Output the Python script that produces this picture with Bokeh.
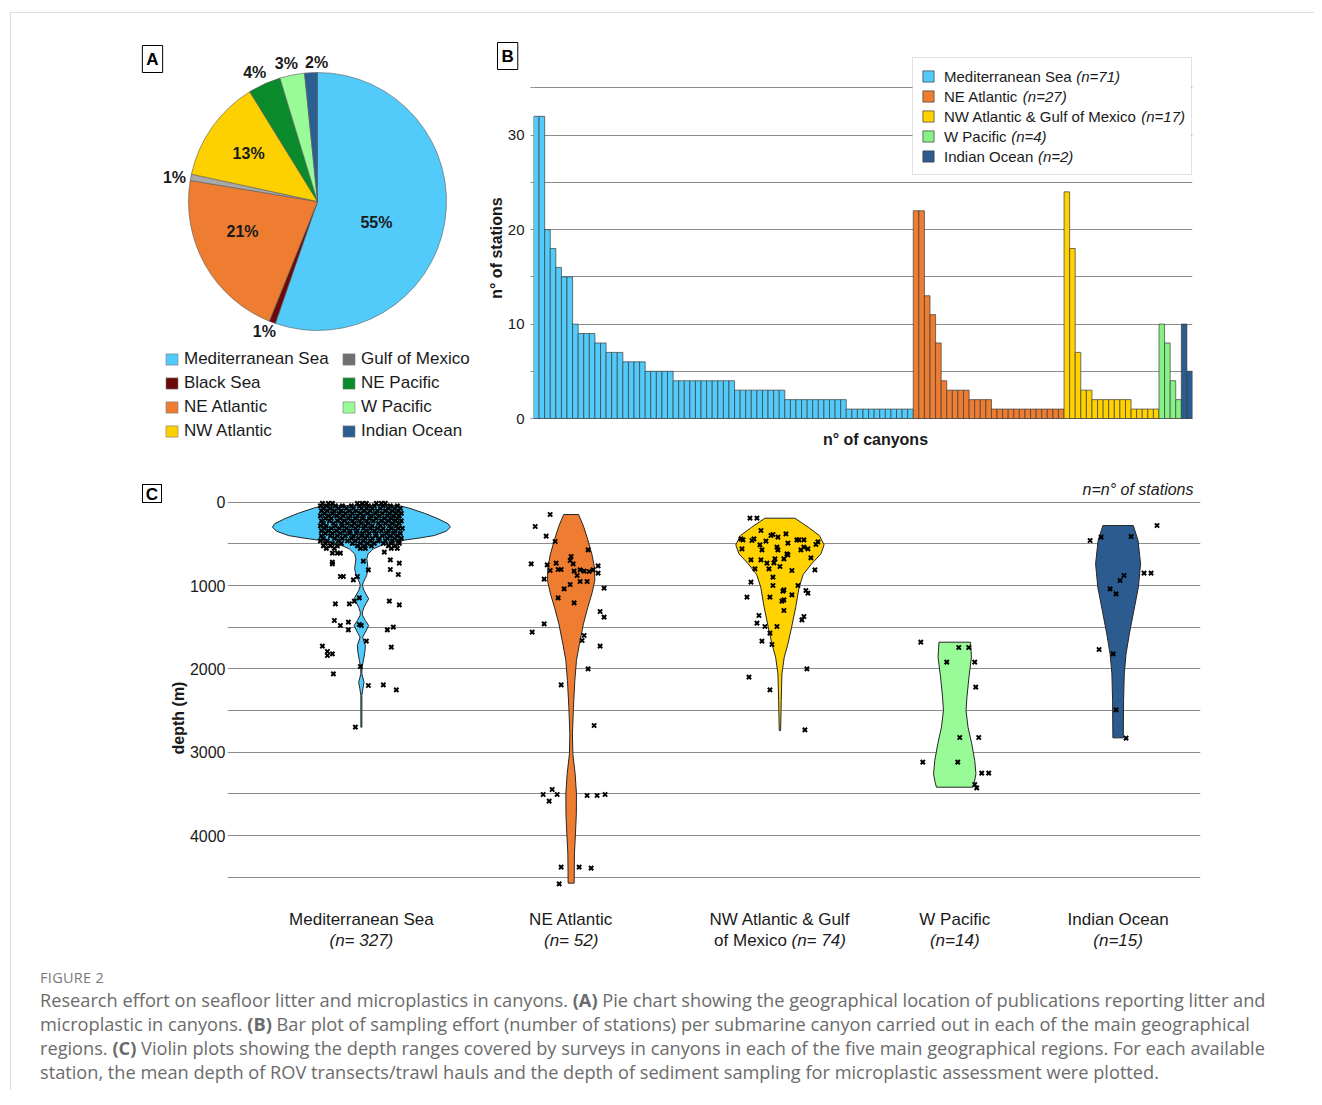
import math
from bokeh.plotting import figure
from bokeh.models import (Range1d, FixedTicker, Legend, LegendItem, Label, Div, Title,
                          BoxAnnotation)
from bokeh.layouts import column, row
from bokeh.embed import file_html
from bokeh.resources import INLINE
from bokeh.core.properties import value

# ============================ DATA ============================
# (A) pie: share of publications per region (%)
pie_regions = ["Mediterranean Sea", "Black Sea", "NE Atlantic", "Gulf of Mexico",
               "NW Atlantic", "NE Pacific", "W Pacific", "Indian Ocean"]
pie_share = [55.3, 0.8, 21.5, 0.8, 12.8, 4.1, 3.1, 1.6]
pie_text = ["55%", "1%", "21%", "1%", "13%", "4%", "3%", "2%"]
pie_legend_col1 = ["Mediterranean Sea", "Black Sea", "NE Atlantic", "NW Atlantic"]
pie_legend_col2 = ["Gulf of Mexico", "NE Pacific", "W Pacific", "Indian Ocean"]

# (B) stations per canyon
bar_regions = ["Mediterranean Sea", "NE Atlantic", "NW Atlantic & Gulf of Mexico",
               "W Pacific", "Indian Ocean"]
bar_n = ["(n=71)", "(n=27)", "(n=17)", "(n=4)", "(n=2)"]
med_stations = [32, 32, 20, 18, 16, 15, 15, 10, 9, 9, 9, 8, 8, 7, 7, 7, 6, 6, 6, 6,
                5, 5, 5, 5, 5,
                4, 4, 4, 4, 4, 4, 4, 4, 4, 4, 4,
                3, 3, 3, 3, 3, 3, 3, 3, 3,
                2, 2, 2, 2, 2, 2, 2, 2, 2, 2, 2,
                1, 1, 1, 1, 1, 1, 1, 1, 1, 1, 1, 1]
ne_stations = [22, 22, 13, 11, 8, 4, 3, 3, 3, 3, 2, 2, 2, 2,
               1, 1, 1, 1, 1, 1, 1, 1, 1, 1, 1, 1, 1]
nw_stations = [24, 18, 7, 3, 3, 2, 2, 2, 2, 2, 2, 2, 1, 1, 1, 1, 1]
wp_stations = [10, 8, 4, 2]
io_stations = [10, 5]

# (C) depth distributions
vio_cats = ["Mediterranean Sea", "NE Atlantic", "NW Atlantic & Gulf", "W Pacific", "Indian Ocean"]
vio_n = ["(n= 327)", "(n= 52)", "(n= 74)", "(n=14)", "(n=15)"]

# violin outlines: depth (m) and half width (px)
med_v_depth = [40, 68, 132, 200, 260, 300, 348, 400, 432, 460, 480, 508, 560, 620, 680, 800, 880,
               960, 1000, 1060, 1160, 1260, 1320, 1360, 1420, 1480, 1560, 1620, 1720, 1800, 1900,
               1980, 2060, 2160, 2240, 2320, 2500, 2700]
med_v_half = [37, 47, 63, 77, 87, 89, 85, 73, 57, 40, 30, 22, 12, 6.7, 5.5, 6.7, 5.3,
              2, 1, 2.7, 7.3, 2.7, 1, 1.3, 4, 7.3, 4, 1.3, 4, 3.5, 2,
              0.7, 0.5, 2.7, 1.5, 0.5, 0.5, 0.5]
ne_v_depth = [148, 300, 452, 620, 780, 940, 1100, 1260, 1460, 1700, 1900, 2140, 2460, 2780,
              3020, 3260, 3500, 3740, 3980, 4220, 4572]
ne_v_half = [7.5, 12.7, 16.7, 20.7, 23.3, 23.7, 20.7, 16.7, 12.3, 8.3, 5.3, 3.7, 2.3, 1.3,
             1.7, 4, 5.3, 5.2, 4.3, 3.3, 3]
nw_v_depth = [192, 300, 400, 512, 620, 740, 868, 1020, 1260, 1500, 1700, 1860, 2060, 2380, 2740]
nw_v_half = [15, 28.3, 39.5, 44.2, 41, 31.7, 23.3, 19.2, 15.8, 11.7, 8, 4.3, 2, 1.3, 0.7]
wp_v_depth = [1680, 1860, 2100, 2340, 2500, 2700, 2900, 3100, 3260, 3360, 3420]
wp_v_half = [15.8, 16.7, 14.2, 12.2, 11.3, 13.3, 17, 20, 21.2, 19.7, 18.3]
io_v_depth = [280, 460, 740, 1020, 1300, 1580, 1820, 2060, 2380, 2828]
io_v_half = [15.2, 20, 22.5, 20.3, 15.8, 11.3, 8, 6.2, 5.5, 5.2]

# stations: depth (m) and horizontal scatter offset (px)
med_cluster = [
    (15, [-39, -33, -29, -4, 1, 5, 15, 20, 24]),
    (45, [-41, -35, -26, -19, -10, -2, 7, 13, 22, 29, 36]),
    (75, [-38, -31, -23, -15, -8, 0, 5, 11, 19, 27, 33, 39]),
    (105, [-40, -34, -27, -20, -12, -5, 3, 9, 16, 24, 31, 37]),
    (135, [-37, -29, -22, -16, -9, -1, 6, 14, 21, 28, 35, 40]),
    (165, [-41, -33, -25, -18, -11, -4, 2, 10, 18, 26, 32, 38]),
    (195, [-36, -30, -21, -13, -6, 1, 8, 15, 23, 30, 36]),
    (225, [-40, -32, -24, -17, -9, -2, 5, 12, 20, 27, 34, 40]),
    (255, [-38, -28, -20, -14, -7, 0, 7, 17, 24, 31, 38]),
    (285, [-41, -35, -26, -19, -10, -3, 4, 11, 19, 28, 35]),
    (315, [-37, -30, -22, -15, -6, 2, 9, 16, 22, 30, 37, 41]),
    (345, [-40, -33, -25, -17, -11, -4, 5, 13, 20, 27, 34]),
    (375, [-36, -29, -21, -12, -5, 1, 8, 15, 25, 32, 39]),
    (405, [-40, -31, -24, -16, -8, 0, 6, 14, 21, 29, 36]),
    (435, [-38, -27, -19, -10, -3, 4, 11, 18, 26, 33, 40]),
    (465, [-41, -34, -23, -14, -6, 2, 9, 17, 24, 31, 37]),
    (495, [-36, -29, -20, -9, -1, 6, 13, 22, 30, 38]),
    (525, [-38, -31, -24, -4, 3, 10, 27, 34]),
    (555, [-35, -27, -1, 4, 30, 36]),
]
med_out_depth = [612, 612, 612, 720, 740, 600, 692, 732, 708, 812, 808, 868, 892, 892, 932, 892,
                 1148, 1188, 1220, 1220, 1188, 1232, 1420, 1480, 1440, 1532, 1468, 1480, 1532, 1500,
                 1668, 1728, 1792, 1840, 1820, 1740, 2060, 1972, 2200, 2192, 2252, 2700]
med_out_off = [-29, -24, -21, -29, -29, 23, 29, 38, 2, 7, 29, 37, -21, -18, -8, -4,
               -2, -7, -12, -26, 28, 38, -27, -21, -13, -13, -2, 0, 26, 32,
               5, -39, -34, -34, -29, 30, -28, -1, 7, 22, 35, -6]
ne_pt_depth = [148, 292, 408, 472, 572, 740, 752, 820, 732, 808, 808, 924, 700, 652, 740, 828,
               880, 812, 828, 952, 952, 832, 812, 764, 852, 1032, 988, 1040, 1148, 1208, 1312,
               1380, 1460, 1560, 1600, 1660, 1728, 2000, 2192, 2680, 3508, 3588, 3448, 3508,
               3520, 3520, 3508, 4380, 4380, 4392, 4580]
ne_pt_off = [-21, -36, -25, -16, 17, -40, -24, -21, -15, -13, -10, -27, -1, 0, 2, 3,
             6, 9, 13, 9, 16, 18, 22, 27, 27, 33, -1, -7, -13, 3, 29,
             33, -27, -39, 13, 11, 29, 17, -10, 23, -28, -22, -19, -14,
             16, 26, 34, -10, 8, 20, -12]
nw_pt_depth = [192, 192, 340, 440, 452, 460, 440, 560, 512, 572, 468, 400, 388, 420, 540, 572,
               380, 492, 620, 452, 452, 452, 572, 540, 560, 508, 476, 668, 812, 692, 692, 800,
               732, 728, 680, 800, 900, 772, 680, 632, 820, 960, 1140, 1140, 1000, 1068, 1052,
               1188, 1172, 1300, 1112, 1000, 1060, 1092, 1360, 1452, 1492, 1492, 1572, 1708,
               1668, 1412, 1372, 2100, 2000, 2252, 2732]
nw_pt_off = [-30, -23, -19, -39, -37, -28, -26, -38, -20, -18, -14, -9, -7, -2, -3, -2,
             6, 8, 7, 17, 19, 24, 21, 24, 28, 36, 38, 31, 35, -29, -19, -25,
             -13, -6, -5, -11, -7, 0, 4, 8, 12, -29, -33, -10, -7, 3, 4,
             2, 4, 4, 12, 18, 26, 28, -21, -23, -15, -3, -10, -8,
             -18, 22, 24, -31, 27, -10, 25]
wp_pt_depth = [1680, 1744, 1744, 1920, 1920, 2220, 2824, 2824, 3120, 3120, 3252, 3252, 3388, 3428]
wp_pt_off = [-34, 4, 14, -8, 20, 21, 5, 24, -32, 3, 27, 34, 20, 22]
io_pt_depth = [460, 420, 412, 280, 852, 852, 880, 940, 1040, 1100, 1768, 1820, 2492, 2832]
io_pt_off = [-28, -17, 13, 39, 26, 33, 6, 2, -8, -2, -19, -5, -2, 8]

# ============================ STYLE ============================
FONT = "Liberation Sans"
TXT = "#1a1a1a"
GRID = "#8c8c8c"
pie_colors = {"Mediterranean Sea": "#52CBFA", "Black Sea": "#6B0A0A", "NE Atlantic": "#EE7D31",
              "Gulf of Mexico": "#A8A8A8", "NW Atlantic": "#FDD100", "NE Pacific": "#0B8A2B",
              "W Pacific": "#98FB98", "Indian Ocean": "#2B5F91"}
pie_legend_colors = dict(pie_colors, **{"Gulf of Mexico": "#707070"})
bar_colors = ["#52CBFA", "#EE7D31", "#FFD200", "#86F286", "#2B5B8F"]
vio_colors = ["#50CBFB", "#EE7D31", "#FFD200", "#98FB98", "#2B5B8F"]
vio_pos = [134, 344, 553, 728, 891.5]          # category centres on the violin x axis
pie_lab_r = [0.485, 1.09, 0.626, 1.124, 0.65, 1.11, 1.095, 1.08]
pie_lab_nudge = [10.0, 1.7, 7.5, -1.3, -0.5, -1.7, -1.4, 2.5]

ARIAL = {' ': 278, '&': 667, '(': 333, ')': 333, '=': 584, 'A': 667, 'E': 667, 'G': 778,
         'I': 278, 'M': 833, 'N': 722, 'O': 778, 'P': 667, 'S': 667, 'W': 944, 'a': 556,
         'c': 500, 'd': 556, 'e': 556, 'f': 278, 'i': 222, 'l': 222, 'n': 556, 'o': 556,
         'r': 333, 't': 278, 'u': 556, 'x': 500}


def tw(s, size):
    return sum(ARIAL.get(ch, 556) for ch in s) * size / 1000.0


# page geometry (reference pixel coordinates); content starts at (11, 13)
TOP_FT, TOP_FB = 40, 455          # frame top / bottom shared by the pie and bar panels

# ============================ (A) PIE ============================
PCX, PCY, PR = 317.0, 201.0, 129.0
pie = figure(width=469, height=442, output_backend="svg", toolbar_location=None,
             x_range=Range1d((11 - PCX) / PR, (480 - PCX) / PR),
             y_range=Range1d((PCY - TOP_FB) / PR, (PCY - TOP_FT) / PR),
             x_axis_location=None, y_axis_location=None,
             min_border_left=0, min_border_right=0, min_border_top=TOP_FT - 13,
             min_border_bottom=0)
pie.grid.visible = False
pie.outline_line_color = None

starts, ends, mids = [], [], []
acc = 0.0
for s in pie_share:
    starts.append(math.pi / 2 - 2 * math.pi * acc / 100)
    mids.append(360.0 * (acc + s / 2) / 100)
    acc += s
    ends.append(math.pi / 2 - 2 * math.pi * acc / 100)
pie.wedge(x=0, y=0, radius=1, start_angle=starts, end_angle=ends, direction="clock",
          fill_color=[pie_colors[r] for r in pie_regions], line_color="#5a5a5a", line_width=0.6)
# zero-size twin of the pie, only used to give the legend its swatch colours
leg_r = pie.wedge(x=0, y=0, radius=0, start_angle=starts, end_angle=ends, direction="clock",
                  fill_color=[pie_legend_colors[r] for r in pie_regions], line_color="#7a7a7a",
                  line_width=0.6)

lx, ly = [], []
for m, r, n in zip(mids, pie_lab_r, pie_lab_nudge):
    a = math.radians(m + n)
    lx.append(r * math.sin(a))
    ly.append(r * math.cos(a))
pie.text(x=lx, y=ly, text=pie_text, text_font=value(FONT), text_font_style="bold",
         text_font_size="16px", text_align="center", text_baseline="middle", text_color=TXT)


def pie_legend(names, loc):
    items = [LegendItem(label=nm, renderers=[leg_r], index=pie_regions.index(nm)) for nm in names]
    return Legend(items=items, location=loc, orientation="vertical", padding=0, margin=0,
                  spacing=4, glyph_width=15, glyph_height=14, label_height=20,
                  label_standoff=5, label_text_font=FONT, label_text_font_size="17px",
                  label_text_color=TXT, background_fill_alpha=0, border_line_color=None)


pie.add_layout(pie_legend(pie_legend_col1, (164 - 11, TOP_FB - 441)))
pie.add_layout(pie_legend(pie_legend_col2, (341 - 11, TOP_FB - 441)))
pie.add_layout(Label(x=(152 - PCX) / PR, y=(PCY - 58.5) / PR, text="A", text_font=FONT,
                     text_font_style="bold", text_font_size="17px", text_color="black",
                     text_align="center", text_baseline="middle", border_line_color="black",
                     border_line_width=1, background_fill_color="white", padding=4))

# ============================ (B) BARS ============================
series = [med_stations, ne_stations, nw_stations, wp_stations, io_stations]
n_bars = sum(len(s) for s in series)
BFL, BFR, BZERO = 533, 1192, 418
YPX = 9.443
bar = figure(width=834, height=442, output_backend="svg", toolbar_location=None,
             x_range=Range1d(-0.5, n_bars - 0.5),
             y_range=Range1d(-(TOP_FB - BZERO) / YPX, (BZERO - TOP_FT) / YPX),
             x_axis_location=None, min_border_left=BFL - 480, min_border_right=480 + 834 - BFR,
             min_border_top=TOP_FT - 13, min_border_bottom=0)
bar.outline_line_color = None
bar.xgrid.visible = False
ticks_b = [0, 5, 10, 15, 20, 25, 30, 35]
bar.ygrid.ticker = FixedTicker(ticks=ticks_b)
bar.ygrid.grid_line_color = GRID
yax = bar.yaxis[0]
yax.ticker = FixedTicker(ticks=ticks_b)
yax.major_label_overrides = {5: "", 15: "", 25: "", 35: ""}
yax.axis_line_color = None
yax.major_tick_line_color = GRID
yax.major_tick_out = 3
yax.major_tick_in = 0
yax.minor_tick_line_color = None
yax.major_label_standoff = 6
yax.major_label_text_font = FONT
yax.major_label_text_font_size = "15px"
yax.major_label_text_color = TXT
yax.axis_label = "n° of stations"
yax.axis_label_text_font = FONT
yax.axis_label_text_font_style = "bold"
yax.axis_label_text_font_size = "16px"
yax.axis_label_text_color = TXT
yax.axis_label_standoff = 0


def bx(px):
    return -0.5 + (px - BFL) * n_bars / (BFR - BFL)


def by(py):
    return (BZERO - py) / YPX


bar_renderers = []
start = 0
for vals, col in zip(series, bar_colors):
    xs = list(range(start, start + len(vals)))
    bar_renderers.append(bar.vbar(x=xs, top=vals, bottom=0, width=1, fill_color=col,
                                  line_color="#3c3c3c", line_width=0.7))
    start += len(vals)

# legend: white box underneath, transparent legend with swatches + names, italic n labels on top
LEG_L, LEG_R, LEG_T, LEG_B = 912, 1191, 57, 174
SW_L, ROW0, ROWH = 921, 76, 20          # swatch left edge, first row centre, row pitch
bar.add_layout(BoxAnnotation(left=bx(LEG_L), right=bx(LEG_R), top=by(LEG_T), bottom=by(LEG_B),
                             fill_color="white", fill_alpha=1, line_color="#9a9a9a",
                             line_width=1))
items = [LegendItem(label=nm, renderers=[r]) for nm, r in zip(bar_regions, bar_renderers)]
leg_bottom = ROW0 - ROWH / 2 + ROWH * len(items)
bar.add_layout(Legend(items=items, location=(SW_L - BFL, TOP_FB - leg_bottom),
                      orientation="vertical", padding=0, margin=0, spacing=0, glyph_width=14,
                      glyph_height=14, label_height=ROWH, label_standoff=9,
                      label_text_font=FONT, label_text_font_size="15px", label_text_color=TXT,
                      background_fill_alpha=0, border_line_color=None))
for i, (nm, nn) in enumerate(zip(bar_regions, bar_n)):
    x0 = SW_L + 14 + 9 + tw(nm + " ", 15)
    yc = ROW0 + ROWH * i
    bar.add_layout(Label(x=bx(x0), y=by(yc), text=nn, text_font=FONT, text_font_style="italic",
                         text_font_size="15px", text_color=TXT, text_align="left",
                         text_baseline="middle"))
bar.add_layout(Label(x=bx(875), y=by(439), text="n° of canyons", text_font=FONT,
                     text_font_style="bold", text_font_size="16px", text_color=TXT,
                     text_align="center", text_baseline="middle"))

tkw = dict(text="B", align="left", offset=497 - BFL, vertical_align="bottom", standoff=-58,
           text_font=FONT, text_font_style="bold", text_font_size="17px", text_color="black",
           border_line_color="black", border_line_width=1, background_fill_color="white")
if "padding" in Title.properties():
    tkw["padding"] = 4
bar.title = Title(**tkw)

# ============================ (C) VIOLINS ============================
VFL, VFR, VFT, VFB = 226, 1200, 475, 960
Y0, PPM = 501.7, 0.08333
C_W = 155


def vd(py):
    return (py - Y0) / PPM


VW = 1303 - C_W
vio = figure(width=VW, height=505, output_backend="svg", toolbar_location=None,
             x_range=Range1d(0, VFR - VFL), y_range=Range1d(vd(VFB), vd(VFT)),
             x_axis_location=None, min_border_left=VFL - (11 + C_W),
             min_border_right=11 + C_W + VW - VFR, min_border_top=VFT - 455,
             min_border_bottom=0)
vio.outline_line_color = None
vio.xgrid.visible = False
ticks_v = [0, 500, 1000, 1500, 2000, 2500, 3000, 3500, 4000, 4500]
vio.ygrid.ticker = FixedTicker(ticks=ticks_v)
vio.ygrid.grid_line_color = GRID
vax = vio.yaxis[0]
vax.ticker = FixedTicker(ticks=ticks_v)
vax.major_label_overrides = {500: "", 1500: "", 2500: "", 3500: "", 4500: ""}
vax.axis_line_color = None
vax.major_tick_line_color = None
vax.major_tick_out = 0
vax.major_tick_in = 0
vax.minor_tick_line_color = None
vax.minor_tick_out = 0
vax.major_label_standoff = 2
vax.major_label_text_font = FONT
vax.major_label_text_font_size = "16px"
vax.major_label_text_color = TXT
vax.axis_label = "depth (m)"
vax.axis_label_text_font = FONT
vax.axis_label_text_font_style = "bold"
vax.axis_label_text_font_size = "16px"
vax.axis_label_text_color = TXT
vax.axis_label_standoff = 0

outlines = [(med_v_depth, med_v_half), (ne_v_depth, ne_v_half), (nw_v_depth, nw_v_half),
            (wp_v_depth, wp_v_half), (io_v_depth, io_v_half)]
med_pt_depth = [d for d, offs in med_cluster for _ in offs] + med_out_depth
med_pt_off = [o for d, offs in med_cluster for o in offs] + med_out_off
points = [(med_pt_depth, med_pt_off), (ne_pt_depth, ne_pt_off), (nw_pt_depth, nw_pt_off),
          (wp_pt_depth, wp_pt_off), (io_pt_depth, io_pt_off)]

for cx, (dep, half), col in zip(vio_pos, outlines, vio_colors):
    xs = [cx + h for h in half] + [cx - h for h in reversed(half)]
    ys = list(dep) + list(reversed(dep))
    vio.patch(x=xs, y=ys, fill_color=col, line_color="#262626", line_width=1)

for cx, (dep, off) in zip(vio_pos, points):
    vio.scatter(x=[cx + o for o in off], y=dep, marker="x", size=6, line_color="black",
                line_width=2)

for i, (cx, nm, nn) in enumerate(zip(vio_pos, vio_cats, vio_n)):
    vio.add_layout(Label(x=cx, y=vd(919), text=nm, text_font=FONT, text_font_size="17px",
                         text_color=TXT, text_align="center", text_baseline="middle"))
    if i == 2:
        w1, w2 = tw("of Mexico ", 17), tw(nn, 17)
        x0 = cx - (w1 + w2) / 2
        vio.add_layout(Label(x=x0, y=vd(940), text="of Mexico", text_font=FONT,
                             text_font_size="17px", text_color=TXT, text_align="left",
                             text_baseline="middle"))
        vio.add_layout(Label(x=x0 + w1, y=vd(940), text=nn, text_font=FONT,
                             text_font_style="italic", text_font_size="17px", text_color=TXT,
                             text_align="left", text_baseline="middle"))
    else:
        vio.add_layout(Label(x=cx, y=vd(940), text=nn, text_font=FONT, text_font_style="italic",
                             text_font_size="17px", text_color=TXT, text_align="center",
                             text_baseline="middle"))

vio.add_layout(Label(x=1193 - VFL, y=vd(489), text="n=n° of stations", text_font=FONT,
                     text_font_style="italic", text_font_size="16px", text_color=TXT,
                     text_align="right", text_baseline="middle"))

c_box = Div(text=("<div style=\"margin-left:131px;margin-top:29px;width:20px;height:19px;"
                  "border:1px solid black;font-family:'Liberation Sans';font-weight:bold;"
                  "font-size:17px;line-height:19px;text-align:center;color:black\">C</div>"),
            width=C_W, height=505, margin=(0, 0, 0, 0))

# ============================ CAPTION ============================
cap_lines = [
    "Research effort on seafloor litter and microplastics in canyons. <b>(A)</b> Pie chart showing "
    "the geographical location of publications reporting litter and",
    "microplastic in canyons. <b>(B)</b> Bar plot of sampling effort (number of stations) per "
    "submarine canyon carried out in each of the main geographical",
    "regions. <b>(C)</b> Violin plots showing the depth ranges covered by surveys in canyons in "
    "each of the five main geographical regions. For each available",
    "station, the mean depth of ROV transects/trawl hauls and the depth of sediment sampling for "
    "microplastic assessment were plotted.",
]
cap_html = (
    "<div style=\"font-family:'Open Sans';color:#7a7a7a;font-size:14.5px;line-height:20px;"
    "margin-top:8px;padding-left:29px;letter-spacing:0.3px\">FIGURE 2</div>"
    "<div style=\"font-family:'Open Sans';color:#6b6b6b;font-size:18.2px;line-height:24px;"
    "white-space:nowrap;padding-left:29px\">" + "<br>".join(cap_lines) + "</div>"
)
caption = Div(text=cap_html, width=1303, height=130, margin=(0, 0, 0, 0))

page = column(row(pie, bar), row(c_box, vio), caption, margin=(12, 0, 0, 10),
              styles={"border-top": "1px solid #dddddd", "border-left": "1px solid #dddddd"})
open("out.html", "w").write(file_html(page, INLINE))
